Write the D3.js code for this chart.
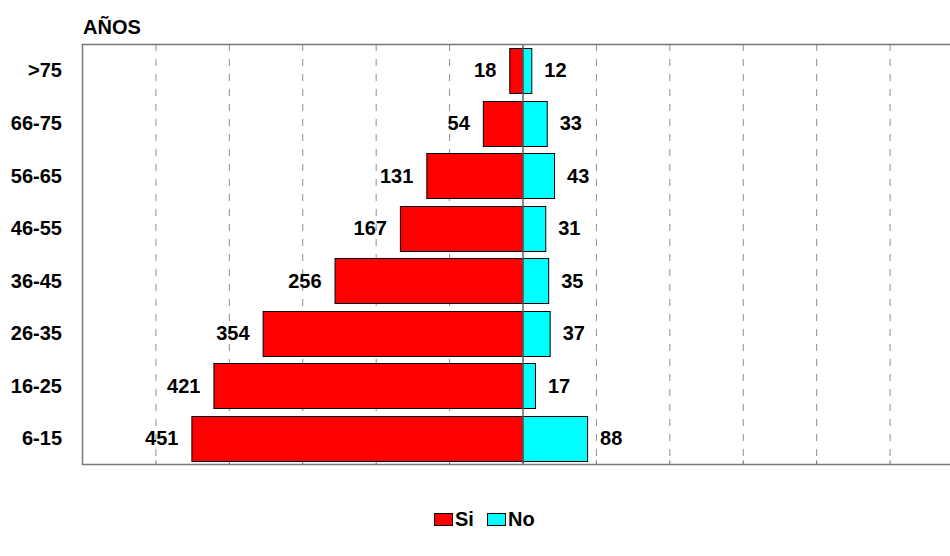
<!DOCTYPE html>
<html><head><meta charset="utf-8">
<script src="https://cdn.jsdelivr.net/npm/d3@7"></script>
<style>body{margin:0;background:#fff}svg{display:block}text{font-family:"Liberation Sans",Arial,sans-serif;font-weight:bold;fill:#000}</style>
</head><body><svg id="c" width="950" height="556"></svg>
<script>
const categories = [">75","66-75","56-65","46-55","36-45","26-35","16-25","6-15"];
const siValues = [18,54,131,167,256,354,421,451];
const noValues = [12,33,43,31,35,37,17,88];
const gridTicks = [-600,-500,-400,-300,-200,-100,0,100,200,300,400,500,600];
const seriesNames = ["Si","No"];
const seriesColors = ["#ff0000","#00ffff"];

const svg = d3.select("#c");
const L=82, R=963, T=44, B=464.5;
const x = d3.scaleLinear().domain([-600,600]).range([L,R]);
const y = d3.scaleBand().domain(categories).range([T,B]).paddingInner(0.15).paddingOuter(0.075);

// gridlines
svg.append("g").selectAll("line").data(gridTicks.filter(t=>t!==0 && t>-600 && t<600)).join("line")
  .attr("x1",d=>x(d)+0.5).attr("x2",d=>x(d)+0.5).attr("y1",T).attr("y2",B)
  .attr("stroke","#8c8c8c").attr("stroke-width",1).attr("stroke-dasharray","7,8");
// inward ticks bottom
svg.append("g").selectAll("line").data(gridTicks.filter(t=>t>-600 && t<600)).join("line")
  .attr("x1",d=>x(d)+0.5).attr("x2",d=>x(d)+0.5).attr("y1",B-4).attr("y2",B)
  .attr("stroke","#666");

// bars
svg.append("g").selectAll("rect").data(categories).join("rect")
  .attr("x",(d,i)=>x(-siValues[i])+0.5).attr("y",d=>Math.round(y(d))+0.5)
  .attr("width",(d,i)=>x(0)-x(-siValues[i])).attr("height",Math.round(y.bandwidth()))
  .attr("fill",seriesColors[0]).attr("stroke","#000").attr("stroke-width",1);
svg.append("g").selectAll("rect").data(categories).join("rect")
  .attr("x",x(0)+0.5).attr("y",d=>Math.round(y(d))+0.5)
  .attr("width",(d,i)=>x(noValues[i])-x(0)).attr("height",Math.round(y.bandwidth()))
  .attr("fill",seriesColors[1]).attr("stroke","#000").attr("stroke-width",1);

// center line
svg.append("line").attr("x1",x(0)+0.5).attr("x2",x(0)+0.5).attr("y1",T).attr("y2",B)
  .attr("stroke","#666").attr("stroke-width",1.5);

// frame
svg.append("path").attr("d",`M${R},${T+0.5}H${L+0.5}V${B}H${R}`)
  .attr("fill","none").attr("stroke","#777").attr("stroke-width",1.5);

const fs = 20;
// value labels
svg.append("g").selectAll("text").data(categories).join("text")
  .attr("x",(d,i)=>x(-siValues[i])-13).attr("y",d=>y(d)+y.bandwidth()/2)
  .attr("dy","0.36em").attr("text-anchor","end").attr("font-size",fs)
  .text((d,i)=>siValues[i]);
svg.append("g").selectAll("text").data(categories).join("text")
  .attr("x",(d,i)=>x(noValues[i])+13).attr("y",d=>y(d)+y.bandwidth()/2)
  .attr("dy","0.36em").attr("text-anchor","start").attr("font-size",fs)
  .text((d,i)=>noValues[i]);

// category labels
svg.append("g").selectAll("text").data(categories).join("text")
  .attr("x",62).attr("y",d=>y(d)+y.bandwidth()/2)
  .attr("dy","0.36em").attr("text-anchor","end").attr("font-size",fs)
  .text(d=>d);

// axis title
svg.append("text").attr("x",83).attr("y",34).attr("font-size",fs).text("AÑOS");

// legend
const lg = svg.append("g");
const legX=[434,487];
seriesNames.forEach((n,i)=>{
  lg.append("rect").attr("x",legX[i]+0.5).attr("y",513.5).attr("width",18).attr("height",12)
    .attr("fill",seriesColors[i]).attr("stroke","#000");
  lg.append("text").attr("x",legX[i]+21).attr("y",526).attr("font-size",fs).text(n);
});
</script></body></html>
